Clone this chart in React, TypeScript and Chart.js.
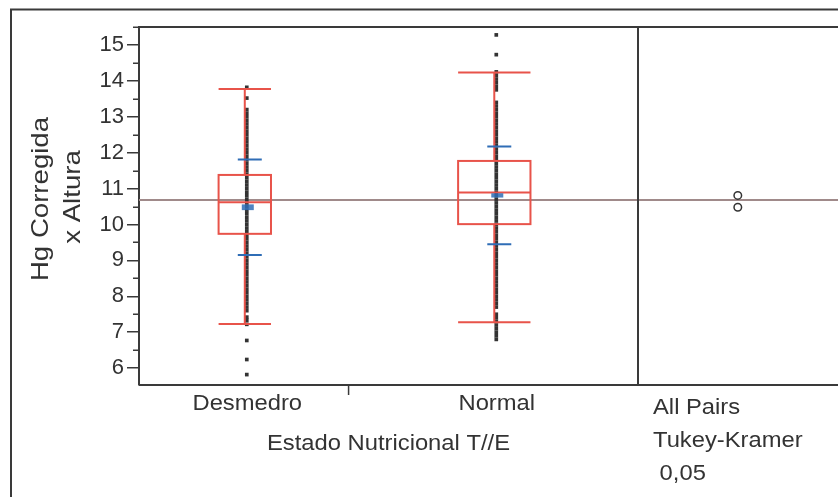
import React, { useEffect, useRef } from 'react';
import { Chart, registerables } from 'chart.js';

Chart.register(...registerables);

// ---------------- data ----------------
const categories = ['Desmedro', 'Normal'];

const desmedroValues = [
  13.82, 13.52,
  13.2, 13.1, 13.0, 12.9, 12.8, 12.7, 12.6, 12.5, 12.4, 12.3, 12.2, 12.1, 12.0,
  11.9, 11.8, 11.7, 11.6, 11.5, 11.4, 11.3, 11.2, 11.1, 11.0,
  10.9, 10.8, 10.7, 10.6, 10.5, 10.4, 10.3, 10.2, 10.1, 10.0,
  9.9, 9.8, 9.7, 9.6, 9.5, 9.4, 9.3, 9.2, 9.1, 9.0,
  8.9, 8.8, 8.7, 8.6, 8.5, 8.4, 8.3, 8.2, 8.1, 8.0,
  7.9, 7.8, 7.7, 7.6,
  7.42, 7.33, 7.22, 6.77, 6.24, 5.82,
];

const normalValues = [
  15.28, 14.73,
  14.25, 14.15, 14.05, 13.95, 13.85, 13.75,
  13.4, 13.3, 13.2, 13.1, 13.0, 12.9, 12.8, 12.7, 12.6, 12.5, 12.4, 12.3, 12.2, 12.1, 12.0,
  11.9, 11.8, 11.7, 11.6, 11.5, 11.4, 11.3, 11.2, 11.1, 11.0,
  10.9, 10.8, 10.7, 10.6, 10.5, 10.4, 10.3, 10.2, 10.1, 10.0,
  9.9, 9.8, 9.7, 9.6, 9.5, 9.4, 9.3, 9.2, 9.1, 9.0,
  8.9, 8.8, 8.7, 8.6, 8.5, 8.4, 8.3, 8.2, 8.1, 8.0,
  7.9, 7.8, 7.7,
  7.5, 7.4, 7.3, 7.2, 7.1, 7.0, 6.9, 6.8,
];

const q1 = [9.74, 10.01];
const medians = [10.62, 10.89];
const q3 = [11.38, 11.77];
const whiskerLow = [7.23, 7.28];
const whiskerHigh = [13.77, 14.23];
const means = [10.48, 10.81];
const stdDevs = [1.33, 1.36];
const stdErrors = [0.08, 0.06];
const grandMean = 10.68;
const circleRadii = [0.105, 0.105];

const yTicks = [6, 7, 8, 9, 10, 11, 12, 13, 14, 15];
const yMinorTicks = [6.5, 7.5, 8.5, 9.5, 10.5, 11.5, 12.5, 13.5, 14.5, 15.5];
const yMin = 5.53;
const yMax = 15.5;

const yTitle = ['Hg Corregida', 'x Altura'];
const xTitle = 'Estado Nutricional T//E';
const testLabels = ['All Pairs', 'Tukey-Kramer', ' 0,05'];

// ---------------- layout / style ----------------
const W = 838;
const H = 497;
const groupBounds = [0, 0.42, 1]; // share of the main panel for each group
const X_MAX = 1.4008;
const CIRCLE_X = 1.2;
const centers = [0, 1].map((i) => (groupBounds[i] + groupBounds[i + 1]) / 2 + 0.002);
const boxHalf = [0, 1].map((i) => (groupBounds[i + 1] - groupBounds[i]) * 0.125);
const POINT_OFFSET = 0.004;

const FONT = '"Liberation Sans", Arial, Helvetica, sans-serif';
const TEXT = '#333333';
const RED = '#e8534a';
const BLUE = '#2f6db6';
const FRAME = '#3a3a3a';

function sText(
  ctx: CanvasRenderingContext2D,
  text: string,
  x: number,
  y: number,
  align: CanvasTextAlign,
  size: number,
  sx = 1.08,
  rot = 0
) {
  ctx.save();
  ctx.translate(x, y);
  if (rot) ctx.rotate(rot);
  ctx.scale(sx, 1);
  ctx.font = `${size}px ${FONT}`;
  ctx.fillStyle = TEXT;
  ctx.textAlign = align;
  ctx.textBaseline = 'alphabetic';
  ctx.fillText(text, 0, 0);
  ctx.restore();
}

const jmpPlugin = {
  id: 'jmpPlugin',
  beforeDatasetsDraw(chart: any) {
    const { ctx, chartArea, scales } = chart;
    const y = scales.y;
    ctx.save();
    ctx.strokeStyle = '#a08a8a';
    ctx.lineWidth = 2;
    const gy = y.getPixelForValue(grandMean);
    ctx.beginPath();
    ctx.moveTo(chartArea.left, gy);
    ctx.lineTo(chartArea.right, gy);
    ctx.stroke();
    ctx.restore();
  },
  afterDatasetsDraw(chart: any) {
    const { ctx, scales } = chart;
    const x = scales.x;
    const y = scales.y;
    ctx.save();
    for (let i = 0; i < categories.length; i++) {
      const cx = x.getPixelForValue(centers[i]);
      const hw = x.getPixelForValue(centers[i] + boxHalf[i]) - cx;
      const yq1 = y.getPixelForValue(q1[i]);
      const yq3 = y.getPixelForValue(q3[i]);
      const ym = y.getPixelForValue(medians[i]);
      const ylo = y.getPixelForValue(whiskerLow[i]);
      const yhi = y.getPixelForValue(whiskerHigh[i]);
      ctx.strokeStyle = RED;
      ctx.lineWidth = 2;
      ctx.strokeRect(cx - hw, yq3, 2 * hw, yq1 - yq3);
      ctx.beginPath();
      ctx.moveTo(cx - hw, ym);
      ctx.lineTo(cx + hw, ym);
      ctx.moveTo(cx, yq3);
      ctx.lineTo(cx, yhi);
      ctx.moveTo(cx, yq1);
      ctx.lineTo(cx, ylo);
      ctx.moveTo(cx - hw, yhi);
      ctx.lineTo(cx + hw, yhi);
      ctx.moveTo(cx - hw, ylo);
      ctx.lineTo(cx + hw, ylo);
      ctx.stroke();

      // mean +/- std dev
      const bx = cx + 5;
      ctx.strokeStyle = BLUE;
      ctx.lineWidth = 2;
      ctx.beginPath();
      [means[i] + stdDevs[i], means[i] - stdDevs[i]].forEach((v) => {
        const py = y.getPixelForValue(v);
        ctx.moveTo(bx - 12, py);
        ctx.lineTo(bx + 12, py);
      });
      ctx.stroke();
      // mean error bar
      const mx = cx + 3;
      const mt = y.getPixelForValue(means[i] + stdErrors[i]);
      const mb = y.getPixelForValue(means[i] - stdErrors[i]);
      ctx.fillStyle = 'rgba(47,109,182,0.85)';
      ctx.fillRect(mx - 6, mt, 12, mb - mt);
    }

    // comparison circles
    ctx.strokeStyle = '#333';
    ctx.lineWidth = 1.5;
    for (let i = 0; i < categories.length; i++) {
      const px = x.getPixelForValue(CIRCLE_X);
      const py = y.getPixelForValue(means[i]);
      const r = Math.abs(y.getPixelForValue(means[i] + circleRadii[i]) - py);
      ctx.beginPath();
      ctx.arc(px, py, r, 0, Math.PI * 2);
      ctx.stroke();
    }
    ctx.restore();
  },
  afterDraw(chart: any) {
    const { ctx, chartArea, scales } = chart;
    const x = scales.x;
    const y = scales.y;
    ctx.save();
    ctx.strokeStyle = FRAME;
    // outer frame
    ctx.lineWidth = 2;
    ctx.beginPath();
    ctx.moveTo(11, H);
    ctx.lineTo(11, 9.5);
    ctx.lineTo(W, 9.5);
    ctx.stroke();

    // plot frame top, bottom, divider
    const divX = x.getPixelForValue(1);
    ctx.beginPath();
    ctx.moveTo(chartArea.left, chartArea.top);
    ctx.lineTo(chartArea.right, chartArea.top);
    ctx.moveTo(chartArea.left, chartArea.bottom);
    ctx.lineTo(chartArea.right, chartArea.bottom);
    ctx.moveTo(divX, chartArea.top);
    ctx.lineTo(divX, chartArea.bottom);
    ctx.stroke();

    // category boundary tick
    const bX = x.getPixelForValue(groupBounds[1]);
    ctx.lineWidth = 1.5;
    ctx.beginPath();
    ctx.moveTo(bX, chartArea.bottom);
    ctx.lineTo(bX, chartArea.bottom + 10);
    ctx.stroke();

    // minor y ticks
    ctx.beginPath();
    yMinorTicks.forEach((v) => {
      const py = Math.round(y.getPixelForValue(v)) + 0.25;
      ctx.moveTo(chartArea.left - 6, py);
      ctx.lineTo(chartArea.left, py);
    });
    ctx.stroke();

    // category labels
    categories.forEach((c, i) => {
      sText(ctx, c, x.getPixelForValue(centers[i] + 0.005), chartArea.bottom + 25, 'center', 22);
    });
    // x title
    sText(ctx, xTitle, x.getPixelForValue(0.5), chartArea.bottom + 65, 'center', 22);
    // test labels
    const tx = x.getPixelForValue(1) + 15;
    testLabels.forEach((t, i) => {
      sText(ctx, t, tx, chartArea.bottom + 29 + i * 33, 'left', 22);
    });
    // y title
    sText(ctx, yTitle[0], 48, 199, 'center', 24, 1.15, -Math.PI / 2);
    sText(ctx, yTitle[1], 80, 197, 'center', 24, 1.15, -Math.PI / 2);
    ctx.restore();
  },
};

export default function App() {
  const ref = useRef<HTMLCanvasElement | null>(null);
  useEffect(() => {
    if (!ref.current) return;
    const pointStyle = {
      pointStyle: 'rect' as const,
      pointRadius: 2.6,
      pointHoverRadius: 2.6,
      backgroundColor: '#333333',
      borderWidth: 0,
    };
    const chart = new Chart(ref.current, {
      type: 'scatter',
      data: {
        datasets: [
          {
            label: categories[0],
            data: desmedroValues.map((v) => ({ x: centers[0] + POINT_OFFSET, y: v })),
            ...pointStyle,
          },
          {
            label: categories[1],
            data: normalValues.map((v) => ({ x: centers[1] + POINT_OFFSET, y: v })),
            ...pointStyle,
          },
        ],
      },
      options: {
        animation: false,
        responsive: false,
        maintainAspectRatio: false,
        layout: { autoPadding: false, padding: { left: 0, top: 27, right: 0, bottom: 112 } },
        plugins: { legend: { display: false }, tooltip: { enabled: false } },
        scales: {
          x: { type: 'linear', min: 0, max: X_MAX, display: false },
          y: {
            type: 'linear',
            min: yMin,
            max: yMax,
            afterFit: (s: any) => {
              s.width = 139;
            },
            afterBuildTicks: (s: any) => {
              s.ticks = yTicks.map((v) => ({ value: v }));
            },
            ticks: {
              font: { family: FONT, size: 22 },
              color: TEXT,
              padding: 3,
              callback: (v: any) => String(v),
            },
            grid: {
              drawOnChartArea: false,
              drawTicks: true,
              tickLength: 12,
              color: FRAME,
              lineWidth: 1.5,
            },
            border: { display: true, color: FRAME, width: 2 },
          },
        },
      },
      plugins: [jmpPlugin],
    });
    return () => chart.destroy();
  }, []);

  return (
    <div style={{ position: 'absolute', left: 0, top: 0, width: W, height: H, background: '#fff' }}>
      <canvas ref={ref} width={W} height={H} style={{ display: 'block' }} />
    </div>
  );
}
